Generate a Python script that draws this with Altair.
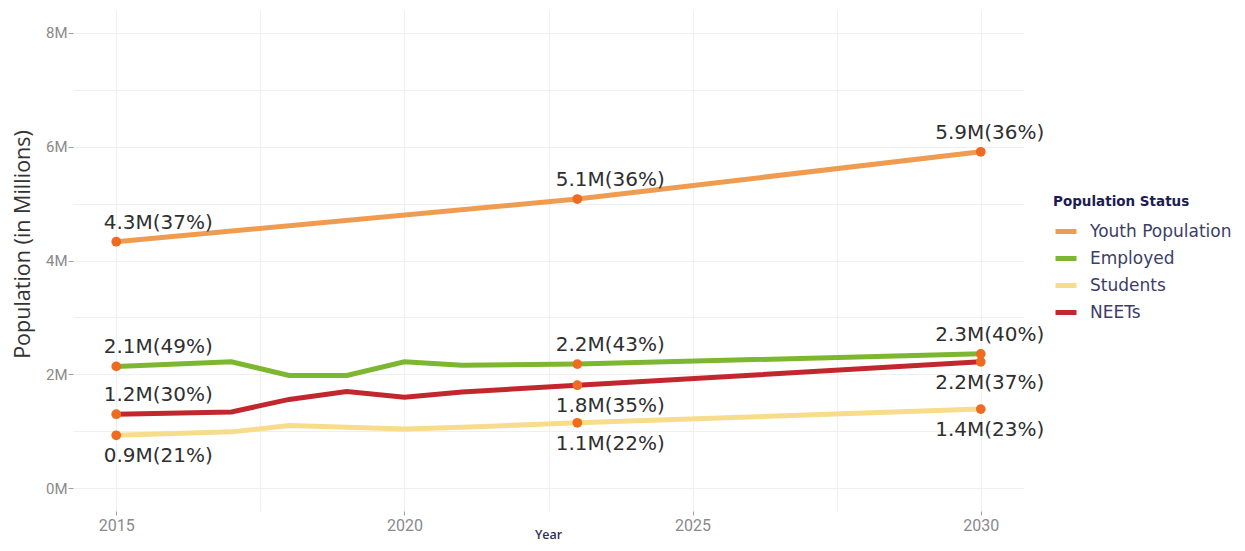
import altair as alt
import pandas as pd

# ---- data ----
series_names = ["Youth Population", "Employed", "Students", "NEETs"]
series_colors = ["#F09C50", "#7DB72F", "#F7DC8C", "#C3272E"]

youth_years = [2015, 2023, 2030]
youth_vals = [4.33, 5.08, 5.91]

employed_years = [2015, 2017, 2018, 2019, 2020, 2021, 2023, 2030]
employed_vals = [2.14, 2.22, 1.98, 1.98, 2.22, 2.16, 2.18, 2.36]

students_years = [2015, 2017, 2018, 2020, 2021, 2023, 2030]
students_vals = [0.93, 0.99, 1.10, 1.04, 1.07, 1.15, 1.39]

neets_years = [2015, 2017, 2018, 2019, 2020, 2021, 2023, 2030]
neets_vals = [1.30, 1.34, 1.56, 1.70, 1.60, 1.69, 1.81, 2.22]

label_years = [2015, 2023, 2030]
youth_labels = ["4.3M(37%)", "5.1M(36%)", "5.9M(36%)"]
employed_labels = ["2.1M(49%)", "2.2M(43%)", "2.3M(40%)"]
students_labels = ["0.9M(21%)", "1.1M(22%)", "1.4M(23%)"]
neets_labels = ["1.2M(30%)", "1.8M(35%)", "2.2M(37%)"]
# where each label sits relative to its dot
youth_side = ["above", "above", "above"]
employed_side = ["above", "above", "above"]
students_side = ["below", "below", "below"]
neets_side = ["above", "below", "below"]

y_ticks = [0, 1, 2, 3, 4, 5, 6, 7, 8]
x_ticks = [2015, 2017.5, 2020, 2022.5, 2025, 2027.5, 2030]

# ---- tables ----
series_data = {
    "Youth Population": (youth_years, youth_vals, youth_labels, youth_side),
    "Employed": (employed_years, employed_vals, employed_labels, employed_side),
    "Students": (students_years, students_vals, students_labels, students_side),
    "NEETs": (neets_years, neets_vals, neets_labels, neets_side),
}

rows = []
lab_rows = []
for order, name in enumerate(series_names):
    yrs, vals, labs, sides = series_data[name]
    for yr, v in zip(yrs, vals):
        rows.append({"series": name, "year": yr, "value": v, "ord": order})
    for yr, lab, side in zip(label_years, labs, sides):
        v = vals[yrs.index(yr)]
        lab_rows.append({"series": name, "year": yr, "value": v, "label": lab, "side": side})

df = pd.DataFrame(rows)
ldf = pd.DataFrame(lab_rows)

x_scale = alt.Scale(domain=[2014.25, 2030.75], nice=False, zero=False)
y_scale = alt.Scale(domain=[-0.4, 8.4], nice=False, zero=False)

x_axis = alt.Axis(
    values=x_ticks,
    labelExpr="datum.value % 5 == 0 ? toString(datum.value) : ''",
    title="Year",
    titleX=475, titleY=23, titleAnchor="start", titleAlign="center", titleBaseline="middle",
    titleFont="Open Sans", titleFontSize=12.5, titleFontWeight=600, titleColor="#2E3057",
    labelFont="Roboto", labelFontSize=16, labelColor="#8A8A8A", labelPadding=2,
    tickSize=4, tickColor="#A0A0A0",
    tickOpacity={"condition": {"test": "datum.value % 5 != 0", "value": 0}, "value": 1},
    grid=True, gridColor="#EFEFEF", domain=False,
)
y_axis = alt.Axis(
    values=y_ticks,
    labelExpr="datum.value % 2 == 0 ? datum.value + 'M' : ''",
    title="Population (in Millions)",
    titleX=-50, titleY=234, titleAngle=270, titleAlign="center", titleBaseline="middle",
    titleFont="Open Sans", titleFontSize=21.5, titleFontWeight="normal", titleColor="#333333",
    labelFont="Roboto", labelFontSize=15, labelColor="#8A8A8A", labelPadding=1,
    tickSize=5, tickColor="#A0A0A0",
    tickOpacity={"condition": {"test": "datum.value % 2 != 0", "value": 0}, "value": 1},
    grid=True, gridColor="#EFEFEF", domain=False,
)

color = alt.Color(
    "series:N",
    scale=alt.Scale(domain=series_names, range=series_colors),
    sort=series_names,
    legend=alt.Legend(
        title="Population Status", orient="none", legendX=980, legendY=185,
        titleFont="DejaVu Sans", titleFontSize=13.5, titleFontWeight="bold", titleColor="#1C1C55",
        titlePadding=10,
        labelFont="DejaVu Sans", labelFontSize=17, labelColor="#3D3D66", labelOffset=11,
        symbolType="stroke", symbolStrokeWidth=5, symbolSize=441, rowPadding=4,
    ),
)

lines = alt.Chart(df).mark_line(strokeWidth=5, strokeCap="butt").encode(
    x=alt.X("year:Q", scale=x_scale, axis=x_axis),
    y=alt.Y("value:Q", scale=y_scale, axis=y_axis),
    color=color,
    order="year:Q",
)

dots = alt.Chart(ldf).mark_circle(size=95, opacity=1, color="#F06B22").encode(
    x=alt.X("year:Q", scale=x_scale),
    y=alt.Y("value:Q", scale=y_scale),
)

dx_by_year = {2015: 42, 2023: 33, 2030: 9}
dy_by_side = {"above": -19, "below": 21}

text_layers = []
for yr in label_years:
    for side in ["above", "below"]:
        t = alt.Chart(ldf).transform_filter(
            (alt.datum.year == yr) & (alt.datum.side == side)
        ).mark_text(
            font="DejaVu Sans", fontSize=20, color="#2F2F2F",
            align="center", baseline="middle",
            dx=dx_by_year[yr], dy=dy_by_side[side],
        ).encode(
            x=alt.X("year:Q", scale=x_scale),
            y=alt.Y("value:Q", scale=y_scale),
            text="label:N",
        )
        text_layers.append(t)

chart = alt.layer(lines, dots, *text_layers).properties(
    width=951, height=501,
    padding={"left": 65, "top": 2, "right": 213, "bottom": 32},
    autosize=alt.AutoSizeParams(type="none"),
    background="white",
).configure_view(stroke=None)

chart.save("out.html", embed_options={"renderer": "svg", "actions": False})
